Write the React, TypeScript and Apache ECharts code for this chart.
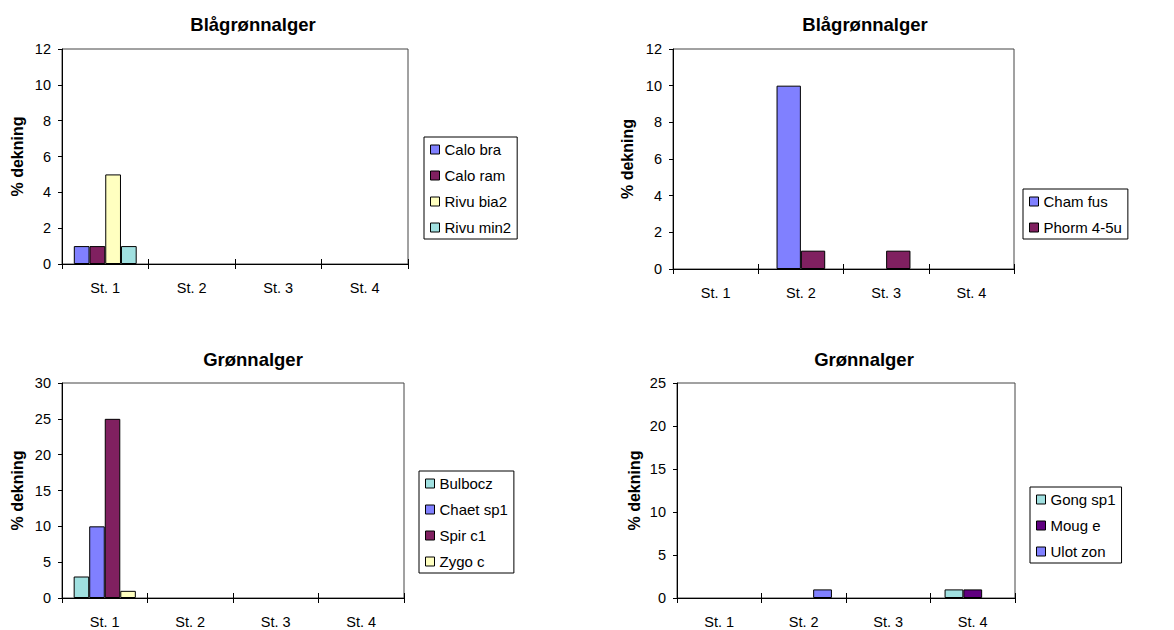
import React, { useEffect, useRef } from "react";
import * as echarts from "echarts";

const categories = ["St. 1", "St. 2", "St. 3", "St. 4"];

// Panel 1 – Blågrønnalger
const caloBra = [1, 0, 0, 0];
const caloRam = [1, 0, 0, 0];
const rivuBia2 = [5, 0, 0, 0];
const rivuMin2 = [1, 0, 0, 0];

// Panel 2 – Blågrønnalger
const chamFus = [0, 10, 0, 0];
const phorm45u = [0, 1, 1, 0];

// Panel 3 – Grønnalger
const bulbocz = [3, 0, 0, 0];
const chaetSp1 = [10, 0, 0, 0];
const spirC1 = [25, 0, 0, 0];
const zygoC = [1, 0, 0, 0];

// Panel 4 – Grønnalger
const gongSp1 = [0, 0, 0, 1];
const mougE = [0, 0, 0, 1];
const ulotZon = [0, 1, 0, 0];

const yName = "% dekning";

const COLORS = {
  periwinkle: "#8080FF",
  plum: "#802060",
  ivory: "#FFFFC0",
  aqua: "#A0E0E0",
  purple: "#600080",
};

const FONT = '"Liberation Sans", Arial, Helvetica, sans-serif';

type SeriesDef = { name: string; data: number[]; color: string };

const panels: {
  title: string;
  series: SeriesDef[];
  yMax: number;
  yInterval: number;
  grid: { left: number; top: number; width: number; height: number };
  titleX: number;
  titleTop: number;
  legend: { left: number; top: number };
  nameGap: number;
}[] = [
  {
    title: "Blågrønnalger",
    series: [
      { name: "Calo bra", data: caloBra, color: COLORS.periwinkle },
      { name: "Calo ram", data: caloRam, color: COLORS.plum },
      { name: "Rivu bia2", data: rivuBia2, color: COLORS.ivory },
      { name: "Rivu min2", data: rivuMin2, color: COLORS.aqua },
    ],
    yMax: 12,
    yInterval: 2,
    grid: { left: 62, top: 49, width: 346, height: 215 },
    titleX: 253,
    titleTop: 15,
    legend: { left: 424, top: 137 },
    nameGap: 37,
  },
  {
    title: "Blågrønnalger",
    series: [
      { name: "Cham fus", data: chamFus, color: COLORS.periwinkle },
      { name: "Phorm 4-5u", data: phorm45u, color: COLORS.plum },
    ],
    yMax: 12,
    yInterval: 2,
    grid: { left: 673, top: 49, width: 341, height: 220 },
    titleX: 865,
    titleTop: 15,
    legend: { left: 1023, top: 189 },
    nameGap: 38,
  },
  {
    title: "Grønnalger",
    series: [
      { name: "Bulbocz", data: bulbocz, color: COLORS.aqua },
      { name: "Chaet sp1", data: chaetSp1, color: COLORS.periwinkle },
      { name: "Spir c1", data: spirC1, color: COLORS.plum },
      { name: "Zygo c", data: zygoC, color: COLORS.ivory },
    ],
    yMax: 30,
    yInterval: 5,
    grid: { left: 62, top: 383, width: 342, height: 215 },
    titleX: 253,
    titleTop: 350,
    legend: { left: 419, top: 471 },
    nameGap: 37,
  },
  {
    title: "Grønnalger",
    series: [
      { name: "Gong sp1", data: gongSp1, color: COLORS.aqua },
      { name: "Moug e", data: mougE, color: COLORS.purple },
      { name: "Ulot zon", data: ulotZon, color: COLORS.periwinkle },
    ],
    yMax: 25,
    yInterval: 5,
    grid: { left: 677, top: 383, width: 338, height: 215 },
    titleX: 864,
    titleTop: 350,
    legend: { left: 1030, top: 487 },
    nameGap: 35,
  },
];

function buildOption() {
  const grid: any[] = [];
  const title: any[] = [];
  const legend: any[] = [];
  const xAxis: any[] = [];
  const yAxis: any[] = [];
  const series: any[] = [];

  panels.forEach((p, i) => {
    grid.push({
      ...p.grid,
      show: true,
      borderColor: "#444",
      borderWidth: 1,
      backgroundColor: "transparent",
    });
    title.push({
      text: p.title,
      left: p.titleX,
      top: p.titleTop,
      textAlign: "center",
      padding: 0,
      textStyle: { fontFamily: FONT, fontSize: 18.5, fontWeight: "bold", color: "#000" },
    });
    legend.push({
      orient: "vertical",
      left: p.legend.left,
      top: p.legend.top,
      data: p.series.map((s) => s.name),
      icon: "rect",
      itemWidth: 9,
      itemHeight: 9,
      itemGap: 11,
      padding: [5, 6, 4, 6],
      borderColor: "#000",
      borderWidth: 1,
      backgroundColor: "#fff",
      selectedMode: false,
      itemStyle: { borderColor: "#000", borderWidth: 1 },
      textStyle: { fontFamily: FONT, fontSize: 15, color: "#000", lineHeight: 15 },
    });
    // main x axis
    xAxis.push({
      type: "category",
      gridIndex: i,
      data: categories,
      boundaryGap: true,
      axisLine: { show: true, lineStyle: { color: "#000", width: 1 } },
      axisTick: { show: true, length: 5, lineStyle: { color: "#000" } },
      axisLabel: { fontFamily: FONT, fontSize: 14.5, color: "#000", margin: 16 },
      splitLine: { show: false },
    });
    // secondary x axis for the inward half of the crossing ticks
    xAxis.push({
      type: "category",
      gridIndex: i,
      position: "bottom",
      data: categories,
      boundaryGap: true,
      axisLine: { show: false },
      axisTick: { show: true, inside: true, length: 5, lineStyle: { color: "#000" } },
      axisLabel: { show: false },
      splitLine: { show: false },
    });
    yAxis.push({
      type: "value",
      gridIndex: i,
      min: 0,
      max: p.yMax,
      interval: p.yInterval,
      name: yName,
      nameLocation: "middle",
      nameGap: p.nameGap,
      nameTextStyle: { fontFamily: FONT, fontSize: 16, fontWeight: "bold", color: "#000" },
      axisLine: { show: true, lineStyle: { color: "#000", width: 1 } },
      axisTick: { show: true, length: 4, lineStyle: { color: "#000" } },
      axisLabel: { fontFamily: FONT, fontSize: 14.5, color: "#000", margin: 11 },
      splitLine: { show: false },
    });
    const n = p.series.length;
    const gapPct = Math.round((1.5 / (n + 1.5)) * 1000) / 10 + "%";
    p.series.forEach((s) => {
      series.push({
        type: "bar",
        name: s.name,
        xAxisIndex: i * 2,
        yAxisIndex: i,
        // zero cover draws no visible bar (as in the original)
        data: s.data.map((v) => (v === 0 ? null : v)),
        barGap: "0%",
        barCategoryGap: gapPct,
        itemStyle: { color: s.color, borderColor: "#000", borderWidth: 1 },
        emphasis: { disabled: true },
      });
    });
  });

  return {
    animation: false,
    backgroundColor: "#fff",
    textStyle: { fontFamily: FONT },
    grid,
    title,
    legend,
    xAxis,
    yAxis,
    series,
  };
}

export default function App() {
  const ref = useRef<HTMLDivElement>(null);
  useEffect(() => {
    if (!ref.current) return;
    const chart = echarts.init(ref.current, undefined, { renderer: "svg" });
    chart.setOption(buildOption() as any);
    return () => chart.dispose();
  }, []);
  return (
    <div
      ref={ref}
      style={{ position: "absolute", left: 0, top: 0, width: 1174, height: 630, background: "#fff" }}
    />
  );
}
